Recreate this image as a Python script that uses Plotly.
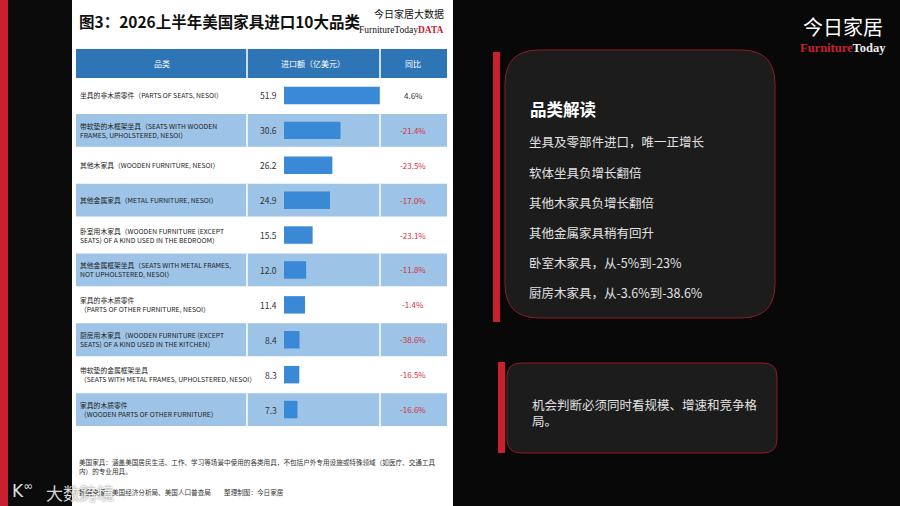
import plotly.graph_objects as go

# 画布尺寸（像素）
W, H = 900, 506

# ---- 数据 ----
category_labels = [
    "坐具的非木质零件（PARTS OF SEATS, NESOI）",
    "带软垫的木框架坐具（SEATS WITH WOODEN<br>FRAMES, UPHOLSTERED, NESOI）",
    "其他木家具（WOODEN FURNITURE, NESOI）",
    "其他金属家具（METAL FURNITURE, NESOI）",
    "卧室用木家具（WOODEN FURNITURE (EXCEPT<br>SEATS) OF A KIND USED IN THE BEDROOM）",
    "其他金属框架坐具（SEATS WITH METAL FRAMES,<br>NOT UPHOLSTERED, NESOI）",
    "家具的非木质零件<br>（PARTS OF OTHER FURNITURE, NESOI）",
    "厨房用木家具（WOODEN FURNITURE (EXCEPT<br>SEATS) OF A KIND USED IN THE KITCHEN）",
    "带软垫的金属框架坐具<br>（SEATS WITH METAL FRAMES, UPHOLSTERED, NESOI）",
    "家具的木质零件<br>（WOODEN PARTS OF OTHER FURNITURE）",
]
import_values = [51.9, 30.6, 26.2, 24.9, 15.5, 12.0, 11.4, 8.4, 8.3, 7.3]
yoy_pct = [4.6, -21.4, -23.5, -17.0, -23.1, -11.8, -1.4, -38.6, -16.5, -16.6]
header_labels = ["品类", "进口额（亿美元）", "同比"]

chart_title = "图3：2026上半年美国家具进口10大品类"
note_text = ("美国家具：涵盖美国居民生活、工作、学习等场景中使用的各类用具，不包括户外专用设施或特殊领域（如医疗、交通工具"
             "<br>内）的专业用具。")
source_text = "数据来源：美国经济分析局、美国人口普查局　　整理制图：今日家居"

insight_title = "品类解读"
insight_items = [
    "坐具及零部件进口，唯一正增长",
    "软体坐具负增长翻倍",
    "其他木家具负增长翻倍",
    "其他金属家具稍有回升",
    "卧室木家具，从-5%到-23%",
    "厨房木家具，从-3.6%到-38.6%",
]
conclusion_text = "机会判断必须同时看规模、增速和竞争格<br>局。"

FONT = "Noto Sans CJK SC"
RED = "#C8202F"
HEADER_BLUE = "#2E75B6"
ROW_BLUE = "#9DC3E6"
BAR_BLUE = "#3A89D6"


def px(x):
    return x / W


def py(y):
    return 1 - y / H


def rounded_rect(x0, y0, x1, y1, r):
    pts = [
        ("M", [(x0 + r, y0)]), ("L", [(x1 - r, y0)]), ("Q", [(x1, y0), (x1, y0 + r)]),
        ("L", [(x1, y1 - r)]), ("Q", [(x1, y1), (x1 - r, y1)]),
        ("L", [(x0 + r, y1)]), ("Q", [(x0, y1), (x0, y1 - r)]),
        ("L", [(x0, y0 + r)]), ("Q", [(x0, y0), (x0 + r, y0)]),
    ]
    s = ""
    for cmd, coords in pts:
        s += cmd + " ".join(f"{px(a):.5f},{py(b):.5f}" for a, b in coords) + " "
    return s + "Z"


def rect(x0, y0, x1, y1, color, **kw):
    return dict(type="rect", xref="paper", yref="paper", x0=px(x0), x1=px(x1),
                y0=py(y1), y1=py(y0), fillcolor=color, line=dict(width=0),
                layer="below", **kw)


def text(x, y, s, size, color, xanchor="left", **kw):
    font = dict(family=kw.pop("family", FONT), size=size, color=color)
    if "shadow" in kw:
        font["shadow"] = kw.pop("shadow")
    return dict(x=px(x), y=py(y), xref="paper", yref="paper", text=s, showarrow=False,
                xanchor=xanchor, yanchor="middle", align=xanchor if xanchor != "center" else "center",
                font=font, **kw)


n = len(import_values)
rows = list(range(n))

fig = go.Figure()

fig.add_trace(go.Bar(
    x=import_values,
    y=rows,
    orientation="h",
    width=0.5,
    marker=dict(color=BAR_BLUE, line=dict(width=0)),
    hoverinfo="skip",
))

shapes = []
annotations = []

# 背景
shapes.append(rect(0, 0, 8, H, RED))
shapes.append(rect(8, 0, 72, H, "#0B0B0B"))
shapes.append(rect(72, 0, 453, H, "#FFFFFF"))

# 表头
shapes.append(rect(76, 49, 447, 78, HEADER_BLUE))
for xs in (247, 380):
    shapes.append(dict(type="line", xref="paper", yref="paper", x0=px(xs), x1=px(xs),
                       y0=py(49), y1=py(78), line=dict(color="white", width=1.5), layer="below"))
for label, cx in zip(header_labels, (162, 313, 413)):
    annotations.append(text(cx, 63.5, label, 8, "white", xanchor="center"))

# 表格行
for i in rows:
    if i % 2 == 1:
        shapes.append(dict(type="rect", xref="paper", yref="y", x0=px(76), x1=px(447),
                           y0=i - 0.47, y1=i + 0.47, fillcolor=ROW_BLUE,
                           line=dict(width=0), layer="below"))
        for xs in (247, 380):
            shapes.append(dict(type="line", xref="paper", yref="y", x0=px(xs), x1=px(xs),
                               y0=i - 0.47, y1=i + 0.47, line=dict(color="white", width=1.5),
                               layer="below"))
    annotations.append(dict(x=px(78), y=i, xref="paper", yref="y", text=category_labels[i],
                            showarrow=False, xanchor="left", yanchor="middle", align="left",
                            font=dict(family=FONT, size=6.8, color="#222222")))
    annotations.append(dict(x=px(279), y=i, xref="paper", yref="y", text=f"{import_values[i]:.1f}",
                            showarrow=False, xanchor="right", yanchor="middle",
                            font=dict(family=FONT, size=8.5, color="#333333")))
    annotations.append(dict(x=px(413), y=i, xref="paper", yref="y", text=f"{yoy_pct[i]:.1f}%",
                            showarrow=False, xanchor="center", yanchor="middle",
                            font=dict(family=FONT, size=8,
                                      color="#D6303A" if yoy_pct[i] < 0 else "#333333")))

# 标题与标识
annotations.append(text(77, 21, f"<b>{chart_title}</b>", 15.5, "#111111"))
annotations.append(text(446, 14, "今日家居大数据", 10, "#111111", xanchor="right"))
annotations.append(text(446, 30, "FurnitureToday<span style='color:#C8202F'><b>DATA</b></span>",
                        9.5, "#111111", xanchor="right", family="Liberation Serif"))

# 注释
annotations.append(text(77, 466, note_text, 6.6, "#333333"))
annotations.append(text(77, 492, source_text, 6.6, "#333333"))
# 水印
annotations.append(text(10, 490, "K<sup>∞</sup>", 17, "rgba(255,255,255,0.9)",
                        family="DejaVu Sans", shadow="0px 0px 2px rgba(0,0,0,0.7)"))
annotations.append(text(44, 492, "大数跨境", 17, "rgba(255,255,255,0.85)",
                        shadow="0px 0px 2px rgba(0,0,0,0.7)"))

# 右侧
annotations.append(text(843, 26, "今日家居", 20, "white", xanchor="center"))
annotations.append(text(843, 48, "<b>Furniture</b><span style='color:#EDEDED'><b>Today</b></span>",
                        12.5, RED, xanchor="center", family="Liberation Serif"))

shapes.append(rect(493, 52, 500, 322, RED))
shapes.append(dict(type="path", xref="paper", yref="paper", path=rounded_rect(505, 50, 775, 318, 34),
                   fillcolor="#1C1C1C", line=dict(color="#8E1B24", width=1), layer="below"))
annotations.append(text(528, 109, f"<b>{insight_title}</b>", 16.5, "white"))
for k, item in enumerate(insight_items):
    annotations.append(text(527, 142 + k * 30, item, 12.5, "#E2E2E2"))

shapes.append(rect(498, 362, 505, 453, RED))
shapes.append(dict(type="path", xref="paper", yref="paper", path=rounded_rect(507, 363, 777, 453, 14),
                   fillcolor="#1C1C1C", line=dict(color="#8E1B24", width=1), layer="below"))
annotations.append(text(530, 412, conclusion_text, 12.5, "#E2E2E2"))

fig.update_layout(
    width=W,
    height=H,
    margin=dict(l=0, r=0, t=0, b=0),
    paper_bgcolor="#080808",
    plot_bgcolor="rgba(0,0,0,0)",
    showlegend=False,
    shapes=shapes,
    annotations=annotations,
    xaxis=dict(domain=[px(284), px(380)], range=[0, 52], visible=False, fixedrange=True),
    yaxis=dict(domain=[py(427), py(78)], range=[n - 0.5, -0.5], visible=False, fixedrange=True),
)

# 页面默认有 8px 边距，去掉以便整幅对齐
fig.write_html("out.html", post_script="document.body.style.margin='0';",
               config={"displayModeBar": False})
